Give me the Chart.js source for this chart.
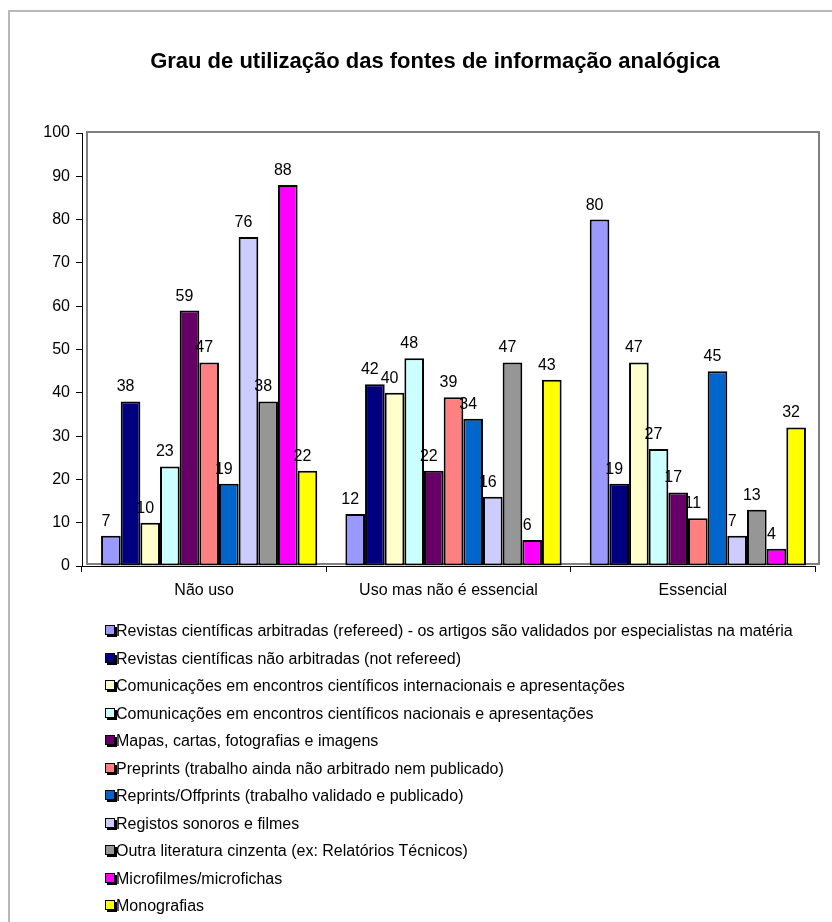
<!DOCTYPE html>
<html>
<head>
<meta charset="utf-8">
<script src="https://cdn.jsdelivr.net/npm/chart.js@4.4.1/dist/chart.umd.min.js"></script>
<style>
    html, body { margin: 0; padding: 0; background: #fff; }
    #wrap { position: relative; width: 832px; height: 922px; overflow: hidden; }
    #chart { position: absolute; left: 0; top: 0; }
    #legend { position: absolute; left: 105px; top: 617px; font: 16px "Liberation Sans", Arial, sans-serif; color: #000; }
    #legend .item { height: 27.5px; line-height: 27.5px; white-space: nowrap; }
    #legend .box { display: inline-block; width: 8px; height: 8px; border: 1px solid #000; box-shadow: 2px 2px 0 #000; vertical-align: 1px; margin-right: 1px; }
</style>
</head>
<body>
<div id="wrap">
    <canvas id="chart" width="832" height="922"></canvas>
    <div id="legend"></div>
</div>
<script>
// Chart data
const title = 'Grau de utilização das fontes de informação analógica';
const categories = ['Não uso', 'Uso mas não é essencial', 'Essencial'];
const seriesNames = [
    'Revistas científicas arbitradas (refereed) - os artigos são validados por especialistas na matéria',
    'Revistas científicas não arbitradas (not refereed)',
    'Comunicações em encontros científicos internacionais e apresentações',
    'Comunicações em encontros científicos nacionais e apresentações',
    'Mapas, cartas, fotografias e imagens',
    'Preprints (trabalho ainda não arbitrado nem publicado)',
    'Reprints/Offprints (trabalho validado e publicado)',
    'Registos sonoros e filmes',
    'Outra literatura cinzenta (ex: Relatórios Técnicos)',
    'Microfilmes/microfichas',
    'Monografias'
];
const seriesColors = ['#9999FF', '#000080', '#FFFFCC', '#CCFFFF', '#660066', '#FF8080', '#0066CC', '#CCCCFF', '#969696', '#FF00FF', '#FFFF00'];

// values per series: [Não uso, Uso mas não é essencial, Essencial]
const refereed = [7, 12, 80];
const notRefereed = [38, 42, 19];
const comInternacionais = [10, 40, 47];
const comNacionais = [23, 48, 27];
const mapas = [59, 22, 17];
const preprints = [47, 39, 11];
const reprints = [19, 34, 45];
const registos = [76, 16, 7];
const outraLiteratura = [38, 47, 13];
const microfilmes = [88, 6, 4];
const monografias = [22, 43, 32];
const seriesValues = [refereed, notRefereed, comInternacionais, comNacionais, mapas, preprints, reprints, registos, outraLiteratura, microfilmes, monografias];

const yTicks = { min: 0, max: 100, step: 10 };

const FONT = '"Liberation Sans", Arial, sans-serif';

// Outer frame, title, plot border
const framePlugin = {
    id: 'frame',
    beforeDraw(chart) {
        const c = chart.ctx;
        c.save();
        c.strokeStyle = '#b8b8b8';
        c.lineWidth = 2;
        c.beginPath();
        c.moveTo(9, chart.height);
        c.lineTo(9, 11);
        c.lineTo(chart.width, 11);
        c.stroke();
        c.fillStyle = '#000';
        c.font = 'bold 22px ' + FONT;
        c.textAlign = 'center';
        c.textBaseline = 'middle';
        c.fillText(title, 435, 62);
        c.restore();
    },
    beforeDatasetsDraw(chart) {
        const a = chart.chartArea;
        const c = chart.ctx;
        c.save();
        c.strokeStyle = '#808080';
        c.lineWidth = 2;
        c.strokeRect(a.left + 5, a.top - 1, a.right - a.left - 1, a.bottom - a.top - 1);
        c.restore();
        // bar groups sit a little right of the category centres
        c.save();
        c.translate(5, 0);
    },
    afterDatasetsDraw(chart) {
        chart.ctx.restore();
    }
};

// Value labels above each bar
const valueLabels = {
    id: 'valueLabels',
    afterDatasetsDraw(chart) {
        const c = chart.ctx;
        c.save();
        c.fillStyle = '#000';
        c.font = '16px ' + FONT;
        c.textAlign = 'center';
        c.textBaseline = 'alphabetic';
        chart.data.datasets.forEach((ds, i) => {
            chart.getDatasetMeta(i).data.forEach((bar, j) => {
                c.fillText(ds.data[j], bar.x, bar.y - 10);
            });
        });
        c.restore();
    }
};

const chart = new Chart(document.getElementById('chart'), {
    type: 'bar',
    data: {
        labels: categories,
        datasets: seriesNames.map((name, i) => ({
            label: name,
            data: seriesValues[i],
            backgroundColor: seriesColors[i],
            borderColor: '#000',
            borderWidth: 2,
            borderSkipped: false,
            categoryPercentage: 0.885,
            barPercentage: 1
        }))
    },
    options: {
        responsive: false,
        animation: false,
        layout: { padding: { top: 133, left: 10, right: 17, bottom: 316 } },
        plugins: {
            legend: { display: false },
            title: { display: false },
            tooltip: { enabled: false }
        },
        scales: {
            x: {
                afterFit: s => { s.height = 40; },
                border: { color: '#000', width: 1 },
                grid: { drawOnChartArea: false, color: '#000', tickLength: 6, offset: true },
                ticks: { color: '#000', font: { family: FONT, size: 16 }, padding: 9 }
            },
            y: {
                min: yTicks.min,
                max: yTicks.max,
                afterFit: s => { s.width = 72; },
                border: { color: '#000', width: 1 },
                grid: { drawOnChartArea: false, color: '#000', tickLength: 6 },
                ticks: { stepSize: yTicks.step, color: '#000', font: { family: FONT, size: 16 }, padding: 6 }
            }
        }
    },
    plugins: [framePlugin, valueLabels]
});

// Legend, one item per line
const legendEl = document.getElementById('legend');
chart.data.datasets.forEach(ds => {
    const row = document.createElement('div');
    row.className = 'item';
    const box = document.createElement('span');
    box.className = 'box';
    box.style.background = ds.backgroundColor;
    row.appendChild(box);
    row.appendChild(document.createTextNode(ds.label));
    legendEl.appendChild(row);
});
</script>
</body>
</html>
